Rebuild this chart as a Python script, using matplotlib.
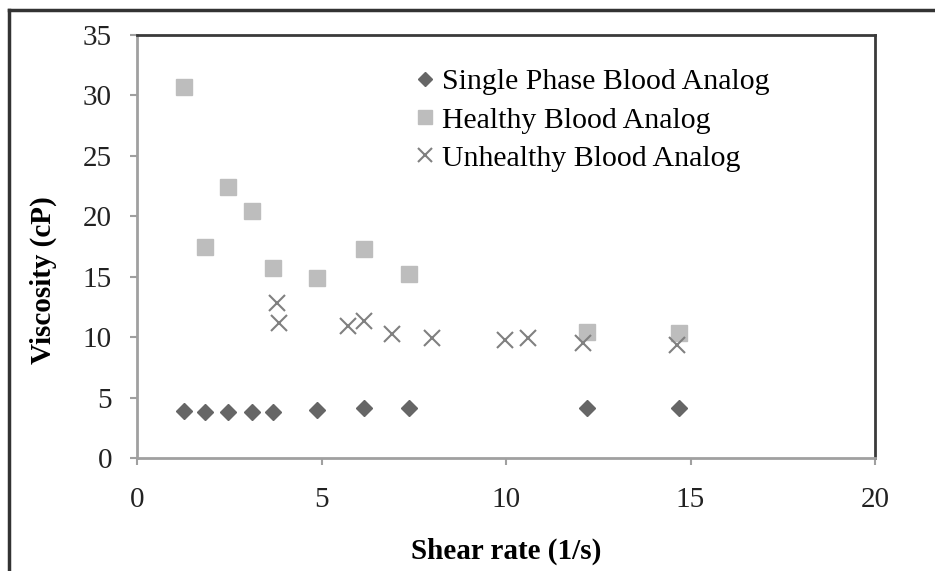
import matplotlib.pyplot as plt
from matplotlib.lines import Line2D

plt.rcParams['font.family'] = ['Liberation Serif', 'DejaVu Serif']

# Data
single_x = [1.27, 1.85, 2.47, 3.12, 3.69, 4.89, 6.14, 7.36, 12.2, 14.69]
single_y = [3.91, 3.78, 3.78, 3.78, 3.78, 3.97, 4.11, 4.11, 4.11, 4.11]

healthy_x = [1.27, 1.85, 2.47, 3.12, 3.69, 4.89, 6.16, 7.36, 12.2, 14.69]
healthy_y = [30.7, 17.5, 22.45, 20.46, 15.75, 14.87, 17.32, 15.25, 10.45, 10.35]

unhealthy_x = [3.79, 3.85, 5.73, 6.16, 6.9, 8.0, 9.96, 10.59, 12.1, 14.64]
unhealthy_y = [12.8, 11.15, 10.95, 11.36, 10.25, 9.9, 9.75, 9.9, 9.55, 9.35]

labels = ['Single Phase Blood Analog', 'Healthy Blood Analog', 'Unhealthy Blood Analog']

fig = plt.figure(figsize=(9.35, 5.71), dpi=100)
ax = fig.add_axes([137/935, 1-458/571, 738/935, 423/571])

ax.plot(single_x, single_y, 'D', color='#666666', markersize=8, linestyle='none', label=labels[0])
ax.plot(healthy_x, healthy_y, 's', color='#bdbdbd', markersize=11, linestyle='none', label=labels[1])
ax.plot(unhealthy_x, unhealthy_y, 'x', color='#808080', markersize=11, markeredgewidth=1.5,
        linestyle='none', label=labels[2])

ax.set_xlim(0, 20)
ax.set_ylim(0, 35)
ax.set_xticks([0, 5, 10, 15, 20])
ax.set_yticks(range(0, 36, 5))

for s in ['left', 'bottom']:
    ax.spines[s].set_color('#a0a0a0')
    ax.spines[s].set_linewidth(2)
for s in ['top', 'right']:
    ax.spines[s].set_color('#3a3a3a')
    ax.spines[s].set_linewidth(2)

ax.tick_params(axis='both', direction='out', length=5, width=1.5, color='#a0a0a0',
               labelsize=21, labelcolor='#222222')
ax.tick_params(axis='x', pad=16)
ax.tick_params(axis='y', pad=13)

ax.set_xlabel('Shear rate (1/s)', fontsize=21, fontweight='bold', labelpad=18)
ax.set_ylabel('Viscosity (cP)', fontsize=21, fontweight='bold')
ax.yaxis.set_label_coords(-0.108, 0.42)

ax.legend(loc='upper left', bbox_to_anchor=(0.380, 0.921), frameon=False, fontsize=21.5,
          handlelength=0.5, handletextpad=0.33, borderpad=0, borderaxespad=0,
          labelspacing=0.38, markerscale=0.95)

# outer frame (cropped box)
fig.add_artist(Line2D([9/935, 1], [1-10/571, 1-10/571], color='#333333', linewidth=2.5,
                      transform=fig.transFigure))
fig.add_artist(Line2D([9/935, 9/935], [0, 1-10/571], color='#333333', linewidth=2.5,
                      transform=fig.transFigure))

fig.savefig('out.png', dpi=100)
